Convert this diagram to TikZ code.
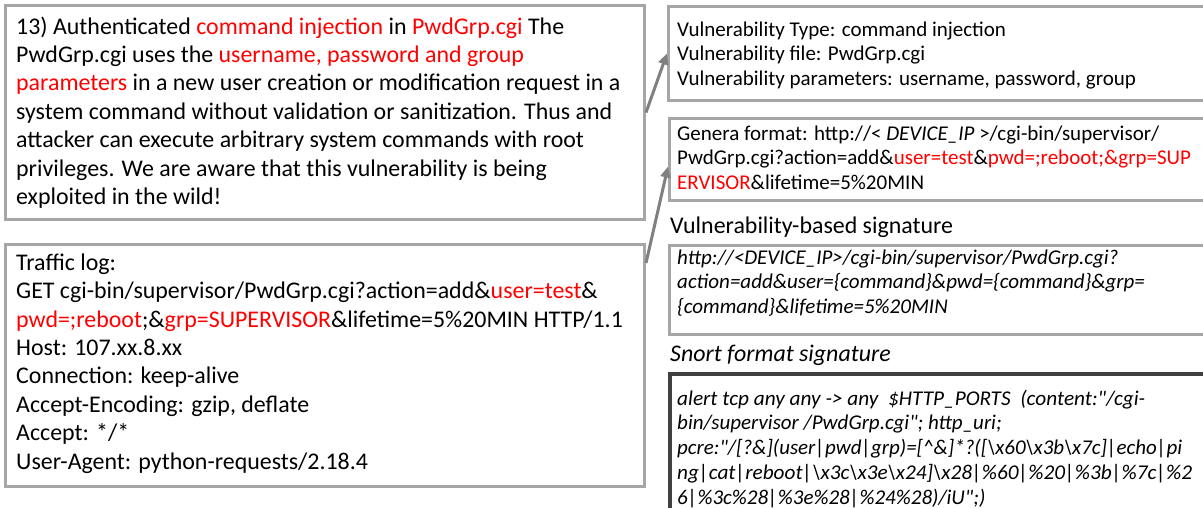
\documentclass[tikz,border=0pt]{standalone}
\usepackage{fontspec}
\usepackage{graphicx}
\setmainfont{Carlito}
\usetikzlibrary{arrows.meta}
\definecolor{framegray}{HTML}{A6A6A6}
\definecolor{linkgray}{HTML}{808080}
\definecolor{snortframe}{HTML}{404040}
\definecolor{hilite}{HTML}{FF0000}
\newcommand{\hl}[1]{\textcolor{hilite}{#1}}
\newcommand{\bs}{\textbackslash}
\newcommand{\dq}{\textquotedbl}
% invisible strut that fixes the height of a first line
\newcommand{\firstrow}[1]{\rule{0pt}{#1}}
% a line of code stretched or squeezed to a given width
\newcommand{\fitline}[2]{\resizebox{#1}{\height}{#2}}

\begin{document}
\begin{tikzpicture}[x=1pt,y=-1pt,
  frame/.style={draw=framegray,line width=3pt,fill=white,inner sep=0pt,anchor=north west},
  darkframe/.style={frame,draw=snortframe,line width=3.5pt},
  bigtext/.style={anchor=north west,inner sep=0pt,align=left,font=\fontsize{23.9}{28.4}\selectfont},
  smalltext/.style={anchor=north west,inner sep=0pt,align=left,font=\fontsize{21}{24.5}\selectfont},
  caption/.style={anchor=north west,inner sep=0pt,font=\fontsize{23.9}{28}\selectfont},
  link/.style={draw=linkgray,line width=3pt,-{Triangle[length=11pt,width=10pt]}}
]
\useasboundingbox (0,0) rectangle (1203,508);
\clip (0,0) rectangle (1203,508);

% frames
\node[frame,minimum width=639pt,minimum height=214pt] (desc) at (4,4) {};
\node[frame,minimum width=639pt,minimum height=242pt] (traffic) at (4,243) {};
\node[frame,minimum width=600pt,minimum height=94pt] (vuln) at (667,5) {};
\node[frame,minimum width=600pt,minimum height=82pt] (generic) at (668,117) {};
\node[frame,minimum width=600pt,minimum height=89pt] (sig) at (668,244) {};
\node[darkframe,minimum width=600pt,minimum height=200pt] (snort) at (668,372) {};

% advisory text
\node[bigtext] (desctext) at (16,10) {\firstrow{24pt}13) Authenticated \hl{command injection} in \hl{PwdGrp.cgi} The\\
PwdGrp.cgi uses the \hl{username, password and group}\\
\hl{parameters} in a new user creation or modification request in a\\
system command without validation or sanitization. Thus and\\
attacker can execute arbitrary system commands with root\\
privileges. We are aware that this vulnerability is being\\
exploited in the wild!};

% captured request
\node[bigtext] (traffictext) at (16,246) {\firstrow{24pt}Traffic log:\\
GET cgi-bin/supervisor/PwdGrp.cgi?action=add\&\hl{user=test}\&\\
\hl{pwd=;reboot};\&\hl{grp=SUPERVISOR}\&lifetime=5\%20MIN HTTP/1.1\\
Host: 107.xx.8.xx\\
Connection: keep-alive\\
Accept-Encoding: gzip, deflate\\
Accept: */*\\
User-Agent: python-requests/2.18.4};

% extracted vulnerability facts
\node[smalltext] (vulntext) at (677,15) {\firstrow{21pt}Vulnerability Type: command injection\\
Vulnerability file: PwdGrp.cgi\\
Vulnerability parameters: username, password, group};

\node[smalltext] (generictext) at (677,119) {\firstrow{21pt}Genera format: http://< \textit{DEVICE\_IP} >/cgi-bin/supervisor/\\
PwdGrp.cgi?action=add\&\hl{user=test}\&\hl{pwd=;reboot;\&grp=SUP}\\
\hl{ERVISOR}\&lifetime=5\%20MIN};

\node[caption] (sigcap) at (670,209) {\firstrow{24pt}Vulnerability-based signature};
\node[smalltext,font=\fontsize{21}{24.5}\selectfont\itshape] (sigtext) at (677,243) {\firstrow{21pt}http://<DEVICE\_IP>/cgi-bin/supervisor/PwdGrp.cgi?\\
action=add\&user=\{command\}\&pwd=\{command\}\&grp=\\
\{command\}\&lifetime=5\%20MIN};

\node[caption,font=\fontsize{23.9}{28}\selectfont\itshape] (snortcap) at (670,337) {\firstrow{24pt}Snort format signature};
\node[smalltext,font=\fontsize{21}{24.75}\selectfont\itshape] (snorttext) at (677,384) {\firstrow{21pt}\fitline{468pt}{alert tcp any any -> any \ \$HTTP\_PORTS \ (content:\dq/cgi-}\\
bin/supervisor /PwdGrp.cgi\dq; http\_uri;\\
\fitline{505pt}{pcre:\dq/[?\&](user|pwd|grp)=[\textasciicircum\&]*?([\bs x60\bs x3b\bs x7c]|echo|pi}\\
\fitline{515pt}{ng|cat|reboot|\bs x3c\bs x3e\bs x24]\bs x28|\%60|\%20|\%3b|\%7c|\%2}\\
6|\%3c\%28|\%3e\%28|\%24\%28)/iU\dq;)};

% connectors
\draw[link] (desc.east) -- (vuln.west);
\draw[link] ([yshift=-20pt]traffic.north east) -- ([yshift=-7pt]generic.west);
\end{tikzpicture}
\end{document}
